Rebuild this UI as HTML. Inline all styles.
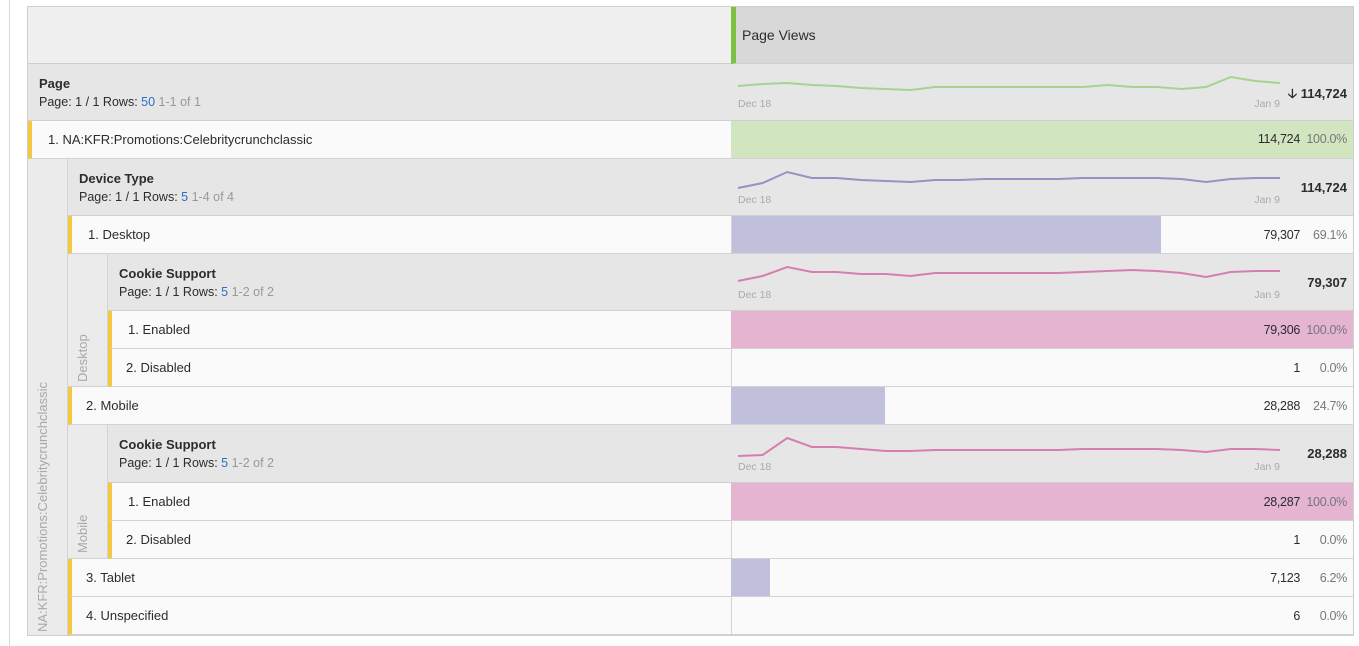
<!DOCTYPE html>
<html><head><meta charset="utf-8">
<style>
body{margin:0;width:1359px;height:646px;background:#fff;font-family:"Liberation Sans",sans-serif;font-size:13px;color:#2c2c2c;position:relative;overflow:hidden}
.a{position:absolute;box-sizing:border-box}
.hdr{background:#e6e6e6;border-bottom:1px solid #cfcfcf}
.row{background:#fafafa;border-bottom:1px solid #d3d3d3}
.ys{border-left:4px solid #f5c842}
.t{position:absolute;white-space:nowrap}
.b{font-weight:bold}
.sub{font-size:12.5px}
.blue{color:#2d6ec8}.gray{color:#999}
.num{position:absolute;right:59px;font-size:12.5px;white-space:nowrap;letter-spacing:-0.3px}
.pct{position:absolute;right:12px;font-size:12.5px;color:#777;white-space:nowrap;letter-spacing:-0.3px}
.vl{position:absolute;color:#a8a8a8;font-size:13px;transform:rotate(-90deg);transform-origin:left top;white-space:nowrap}
</style></head><body>
<div class="a" style="left:9px;top:0;width:1px;height:646px;background:#d8d8d8"></div>
<div class="a" style="left:27px;top:6px;width:1327px;height:630px;border:1px solid #cfcfcf;background:#fafafa"></div>
<div class="a" style="left:28px;top:7px;width:703px;height:57px;background:#f0f0f0;border-bottom:1px solid #cfcfcf"></div>
<div class="a" style="left:731px;top:7px;width:622px;height:57px;background:#d8d8d8;border-left:5px solid #7cc142;border-bottom:1px solid #cfcfcf"><span class="t" style="left:6px;top:20px;font-size:14px">Page Views</span></div>
<div class="a hdr" style="left:28px;top:64px;width:1325px;height:57px">
<span class="t b" style="left:11px;top:12px">Page</span>
<span class="t sub" style="left:11px;top:31px">Page: 1 / 1 Rows: <span class="blue">50</span> <span class="gray">1-1 of 1</span></span>
<span class="t b" style="right:6px;top:21px">&#129123; 114,724</span>
</div>
<div class="a row ys" style="left:28px;top:121px;width:1325px;height:38px">
<span class="t" style="left:16px;top:11px">1. NA:KFR:Promotions:Celebritycrunchclassic</span></div>
<div class="a" style="left:731px;top:121px;width:622px;height:37px;background:#d1e5c0"></div>
<span class="num" style="top:132px">114,724</span><span class="pct" style="top:132px">100.0%</span>
<div class="a" style="left:28px;top:159px;width:40px;height:476px;background:#ebebeb;border-right:1px solid #d3d3d3"></div>
<span class="vl" style="left:35px;top:632px">NA:KFR:Promotions:Celebritycrunchclassic</span>
<div class="a hdr" style="left:68px;top:159px;width:1285px;height:57px">
<span class="t b" style="left:11px;top:12px">Device Type</span>
<span class="t sub" style="left:11px;top:31px">Page: 1 / 1 Rows: <span class="blue">5</span> <span class="gray">1-4 of 4</span></span>
<span class="t b" style="right:6px;top:21px">114,724</span></div>
<div class="a row ys" style="left:68px;top:216px;width:1285px;height:38px"><span class="t" style="left:16px;top:11px">1. Desktop</span></div>
<div class="a" id="bar0" style="left:731px;top:216px;height:37px;background:#c0c0dd"></div>
<span class="num" style="top:228px">79,307</span><span class="pct" style="top:228px">69.1%</span>
<div class="a" style="left:68px;top:254px;width:40px;height:133px;background:#ebebeb;border-right:1px solid #d3d3d3;border-bottom:1px solid #d3d3d3"></div>
<span class="vl" style="left:75px;top:382px">Desktop</span>
<div class="a hdr" style="left:108px;top:254px;width:1245px;height:57px">
<span class="t b" style="left:11px;top:12px">Cookie Support</span>
<span class="t sub" style="left:11px;top:31px">Page: 1 / 1 Rows: <span class="blue">5</span> <span class="gray">1-2 of 2</span></span>
<span class="t b" style="right:6px;top:21px">79,307</span></div>
<div class="a row ys" style="left:108px;top:311px;width:1245px;height:38px"><span class="t" style="left:16px;top:11px">1. Enabled</span></div>
<div class="a" style="left:731px;top:311px;width:622px;height:37px;background:#e4b4d1"></div>
<span class="num" style="top:323px">79,306</span><span class="pct" style="top:323px">100.0%</span>
<div class="a row ys" style="left:108px;top:349px;width:1245px;height:38px"><span class="t" style="left:14px;top:11px">2. Disabled</span></div>
<div class="a" style="left:731px;top:349px;width:1px;height:38px;background:#d3d3d3"></div>
<span class="num" style="top:361px">1</span><span class="pct" style="top:361px">0.0%</span>
<div class="a row ys" style="left:68px;top:387px;width:1285px;height:38px"><span class="t" style="left:14px;top:11px">2. Mobile</span></div>
<div class="a" id="bar1" style="left:731px;top:387px;height:37px;background:#c0c0dd"></div>
<span class="num" style="top:399px">28,288</span><span class="pct" style="top:399px">24.7%</span>
<div class="a" style="left:68px;top:425px;width:40px;height:134px;background:#ebebeb;border-right:1px solid #d3d3d3;border-bottom:1px solid #d3d3d3"></div>
<span class="vl" style="left:75px;top:553px">Mobile</span>
<div class="a hdr" style="left:108px;top:425px;width:1245px;height:58px">
<span class="t b" style="left:11px;top:12px">Cookie Support</span>
<span class="t sub" style="left:11px;top:31px">Page: 1 / 1 Rows: <span class="blue">5</span> <span class="gray">1-2 of 2</span></span>
<span class="t b" style="right:6px;top:21px">28,288</span></div>
<div class="a row ys" style="left:108px;top:483px;width:1245px;height:38px"><span class="t" style="left:16px;top:11px">1. Enabled</span></div>
<div class="a" style="left:731px;top:483px;width:622px;height:37px;background:#e4b4d1"></div>
<span class="num" style="top:495px">28,287</span><span class="pct" style="top:495px">100.0%</span>
<div class="a row ys" style="left:108px;top:521px;width:1245px;height:38px"><span class="t" style="left:14px;top:11px">2. Disabled</span></div>
<div class="a" style="left:731px;top:521px;width:1px;height:38px;background:#d3d3d3"></div>
<span class="num" style="top:533px">1</span><span class="pct" style="top:533px">0.0%</span>
<div class="a row ys" style="left:68px;top:559px;width:1285px;height:38px"><span class="t" style="left:14px;top:11px">3. Tablet</span></div>
<div class="a" id="bar2" style="left:731px;top:559px;height:37px;background:#c0c0dd"></div>
<span class="num" style="top:571px">7,123</span><span class="pct" style="top:571px">6.2%</span>
<div class="a row ys" style="left:68px;top:597px;width:1285px;height:38px"><span class="t" style="left:14px;top:11px">4. Unspecified</span></div>
<div class="a" style="left:731px;top:597px;width:1px;height:38px;background:#d3d3d3"></div>
<div class="a" style="left:731px;top:216px;width:1px;height:38px;background:#d3d3d3"></div>
<span class="num" style="top:609px">6</span><span class="pct" style="top:609px">0.0%</span>
<svg class="a" id="spark" style="left:0;top:0" width="1359" height="646"></svg>
<script>
const deviceShares=[69.1,24.7,6.2];
const pageTrend=[86,84,83,85,86,88,89,90,87,87,87,87,87,87,87,85,87,87,89,87,77,81,83];
const deviceTrend=[188,183,172,178,178,180,181,182,180,180,179,179,179,179,178,178,178,178,179,182,179,178,178];
const desktopCookieTrend=[281,276,267,272,272,274,274,276,273,273,273,273,273,273,272,271,270,271,273,277,272,271,271];
const mobileCookieTrend=[456,455,438,447,447,449,451,451,450,450,450,450,450,450,449,449,449,449,450,452,449,449,450];
const dateTicks=["Dec 18","Jan 9"];
const bars=["bar0","bar1","bar2"];
bars.forEach((id,i)=>{document.getElementById(id).style.width=(622*deviceShares[i]/100)+'px';});
const svg=document.getElementById('spark');
const NS='http://www.w3.org/2000/svg';
function spark(vals,top,color,name){
  const x0=738,x1=1280;
  const xs=i=>x0+(x1-x0)*i/(vals.length-1);
  const pts=vals.map((v,i)=>xs(i)+','+v).join(' ');
  const p=document.createElementNS(NS,'polyline');
  p.setAttribute('points',pts);p.setAttribute('fill','none');p.setAttribute('stroke',color);p.setAttribute('stroke-width','2');
  
  
  svg.appendChild(p);
  [[x0,'start',dateTicks[0]],[x1,'end',dateTicks[1]]].forEach(([x,a,s])=>{
    const t=document.createElementNS(NS,'text');
    t.setAttribute('x',x);t.setAttribute('y',top);t.setAttribute('text-anchor',a);
    t.setAttribute('font-size','10.5');t.setAttribute('fill','#aaa');t.setAttribute('font-family','Liberation Sans, sans-serif');
    t.textContent=s;
    
    
    svg.appendChild(t);
  });
}
spark(pageTrend,107,'#a6d48e','sparkline-page');
spark(deviceTrend,203,'#9393c4','sparkline-device-type');
spark(desktopCookieTrend,298,'#d57fb0','sparkline-cookie-desktop');
spark(mobileCookieTrend,470,'#d57fb0','sparkline-cookie-mobile');
</script>
</body></html>
